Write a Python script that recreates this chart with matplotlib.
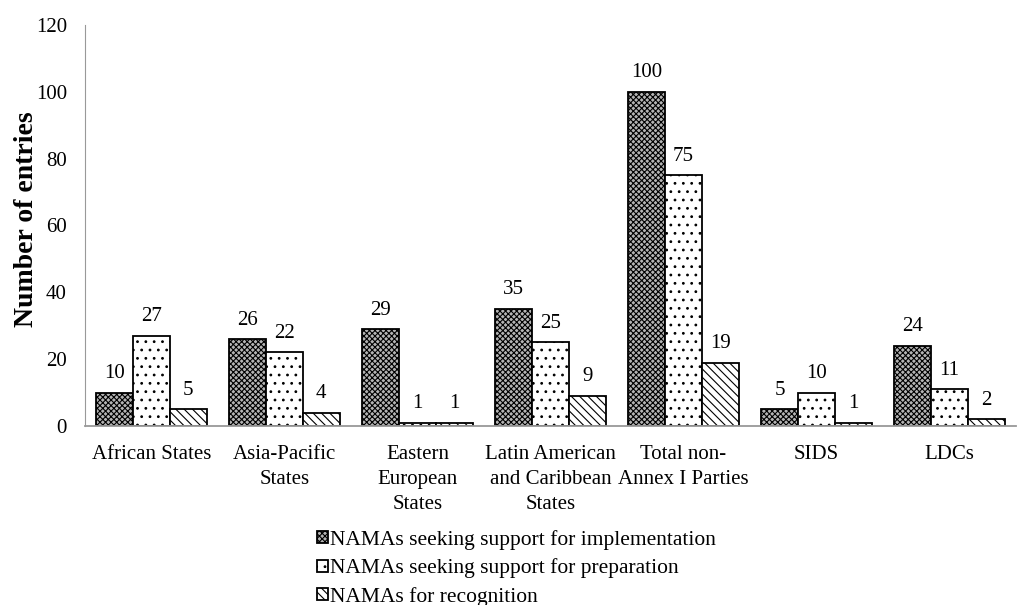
import numpy as np
import matplotlib; matplotlib.use("Agg")
import matplotlib.pyplot as plt

plt.rcParams["font.family"] = ["Liberation Serif", "DejaVu Serif"]
plt.rcParams["hatch.linewidth"] = 0.8

cats = ["African States", "Asia-Pacific\nStates", "Eastern\nEuropean\nStates",
        "Latin American\nand Caribbean\nStates", "Total non-\nAnnex I Parties", "SIDS", "LDCs"]
impl = [10, 26, 29, 35, 100, 5, 24]
prep = [27, 22, 1, 25, 75, 10, 11]
recog = [5, 4, 1, 9, 19, 1, 2]
names = ["NAMAs seeking support for implementation",
         "NAMAs seeking support for preparation",
         "NAMAs for recognition"]

fig = plt.figure(figsize=(10.18, 6.05), dpi=100)
# plot area: x 85..1016 px, y 25..426 px
ax = fig.add_axes([85 / 1018, 1 - 426 / 605, 931 / 1018, 401 / 605])
x = np.arange(len(cats))
w = 0.276
styles = [dict(facecolor="#b4b4b4", hatch="xxxxxx"),
          dict(facecolor="white", hatch=".."),
          dict(facecolor="white", hatch="\\\\\\\\")]
for i, (vals, st, nm) in enumerate(zip([impl, prep, recog], styles, names)):
    bars = ax.bar(x + (i - 1) * w, vals, w, edgecolor="black", linewidth=1.3, label=nm, **st)
    for b, v in zip(bars, vals):
        ax.annotate(str(v), (b.get_x() + b.get_width() / 2, v), xytext=(0, 10.5),
                    textcoords="offset points", ha="center", va="baseline", fontsize=15)

ax.set_xlim(-0.5, len(cats) - 0.5)
ax.set_ylim(0, 120)
ax.set_yticks(range(0, 121, 20))
ax.set_xticks(x)
ax.set_xticklabels(cats, fontsize=15, linespacing=1.42)
ax.tick_params(axis="y", labelsize=15, length=0, pad=13)
ax.tick_params(axis="x", length=0, pad=14)
ax.set_ylabel("Number of entries", fontsize=20, fontweight="bold")
ax.yaxis.set_label_coords(-0.049, 0.516)
for s in ["top", "right"]:
    ax.spines[s].set_visible(False)
ax.spines["left"].set_color("#999999")
ax.spines["bottom"].set_color("#999999")
ax.spines["bottom"].set_linewidth(1.3)

fig.legend(loc="upper left", bbox_to_anchor=(317 / 1018, 1 - 530 / 605), ncol=1, frameon=False,
           fontsize=15.5, borderpad=0, borderaxespad=0, handlelength=0.5, handleheight=0.5,
           handletextpad=0.12, labelspacing=0.4)
fig.savefig("out.png", dpi=100)
